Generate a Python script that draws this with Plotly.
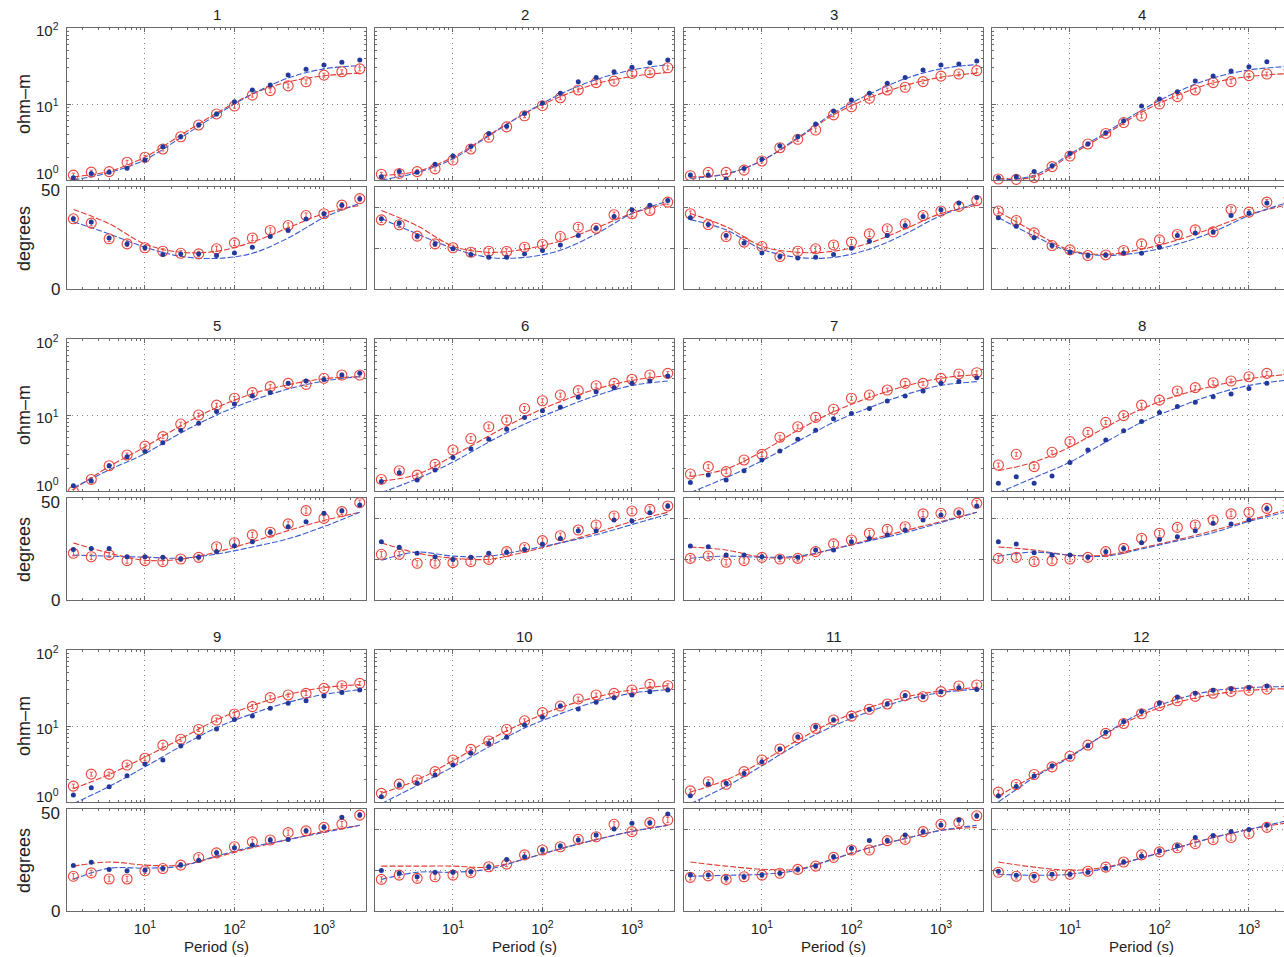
import plotly.graph_objects as go

# ---------------- data ----------------
periods = [1.585, 2.512, 3.981, 6.310, 10.0, 15.85, 25.12, 39.81, 63.10, 100.0,
           158.5, 251.2, 398.1, 631.0, 1000.0, 1585.0, 2512.0]
model_periods = [1.585, 3.981, 10.0, 25.12, 63.10, 158.5, 398.1, 1000.0, 2512.0]
station_labels = ["1", "2", "3", "4", "5", "6", "7", "8", "9", "10", "11", "12"]
x_tick_vals = [10, 100, 1000]
x_tick_text = ["10<sup>1</sup>", "10<sup>2</sup>", "10<sup>3</sup>"]
rho_tick_vals = [1, 10, 100]
rho_tick_text = ["10<sup>0</sup>", "10<sup>1</sup>", "10<sup>2</sup>"]
phase_tick_vals = [0, 50]
phase_tick_text = ["0", "50"]

rho_blue_data = [
    [1.07, 1.22, 1.26, 1.43, 1.83, 2.74, 3.7, 5.3, 7.4, 10.7, 15.3, 17.8, 24, 28.6, 32.6, 35.3, 38],
    [1.1, 1.29, 1.26, 1.61, 2.07, 2.75, 4.1, 5.1, 7.5, 10.2, 13.8, 19.6, 22.4, 26.6, 30.4, 35, 38],
    [1.16, 1.16, 1.03, 1.42, 1.87, 2.83, 3.71, 5.46, 8.1, 11.3, 13.8, 18.7, 22.4, 28, 32.6, 33.6, 36.8],
    [1.08, 1.1, 1.29, 1.54, 2.24, 2.98, 4.2, 6.0, 9.4, 11.6, 14.5, 20, 23.3, 27.2, 31, 36, 34],
    [1.17, 1.35, 2.15, 2.83, 3.3, 4.3, 6.3, 7.8, 11.1, 14, 17.8, 19.7, 26.1, 28, 29.4, 33.6, 35.4],
    [1.33, 1.74, 1.40, 1.89, 2.75, 3.6, 4.8, 6.5, 9.3, 11.4, 12.6, 17.1, 20.3, 22.9, 26.1, 28, 32.6],
    [1.29, 1.62, 1.40, 1.85, 2.56, 3.36, 4.8, 6.3, 8.9, 10.5, 12.2, 15.3, 17.8, 20.7, 26.1, 27.5, 31],
    [1.26, 1.54, 1.26, 1.57, 2.38, 3.46, 4.7, 6.2, 8.2, 10.8, 12.9, 14.7, 17.4, 18.9, 22.4, 26.1, 29.5],
    [1.24, 1.54, 1.59, 2.22, 3.16, 3.57, 5.46, 7.1, 9.1, 12.2, 13.5, 17.1, 19.9, 21.5, 24.8, 27.5, 29.8],
    [1.17, 1.67, 1.76, 2.27, 3.07, 4.37, 5.9, 7.1, 10.3, 13, 18.3, 16.7, 20.5, 23.6, 25.6, 28.3, 29.8],
    [1.21, 1.72, 1.76, 2.38, 3.39, 4.98, 7.24, 9.8, 12, 13.5, 16.6, 19.5, 25.1, 24.3, 28.3, 31.9, 30.3],
    [1.2, 1.6, 2.2, 3.0, 3.9, 5.5, 8.3, 11.5, 15.5, 20, 24, 27, 29.5, 31, 32, 33.5, 34],
]
rho_red_data = [
    [1.16, 1.27, 1.29, 1.71, 1.99, 2.56, 3.71, 5.3, 7.4, 9.4, 13.1, 15, 17.3, 19.6, 24, 26.6, 29],
    [1.19, 1.22, 1.29, 1.40, 1.83, 2.56, 3.65, 5.0, 7.0, 9.5, 12.1, 15.3, 19.1, 20, 25.3, 25.8, 30],
    [1.14, 1.26, 1.26, 1.35, 1.78, 2.66, 3.43, 4.55, 7.2, 9.2, 11.9, 15.3, 16.6, 19.7, 23.3, 24.8, 27.5],
    [1.03, 1.02, 1.08, 1.50, 2.07, 2.98, 4.1, 5.7, 6.95, 10, 12.5, 15.3, 19.1, 19.7, 23.6, 24.8, 26.6],
    [0.99, 1.42, 2.15, 2.98, 3.9, 5.2, 7.6, 10, 13.5, 16.6, 19.7, 23.6, 26.1, 25.3, 30.4, 33.6, 33.6],
    [1.42, 1.85, 1.62, 2.24, 3.46, 4.9, 7.0, 8.6, 12.2, 15.4, 18.3, 20.9, 24.3, 26.1, 29.5, 33.6, 35.3],
    [1.67, 2.09, 1.80, 2.56, 3.03, 5.1, 7.0, 9.3, 11.9, 16.6, 18.3, 21.3, 26.1, 26.1, 30.3, 34.7, 36],
    [2.2, 3.04, 2.09, 3.23, 4.46, 5.9, 8.0, 9.8, 13.5, 15.7, 20.7, 22.9, 26.6, 28, 31.9, 35.3, 36.4],
    [1.62, 2.33, 2.33, 3.07, 3.76, 5.6, 6.7, 9.0, 12, 14.4, 18, 23.6, 25.6, 26.9, 31.3, 33.9, 36.4],
    [1.30, 1.72, 1.95, 2.51, 3.57, 4.93, 6.35, 9.0, 11.7, 15, 18.3, 22.7, 25.6, 26.9, 29.8, 35.3, 33.9],
    [1.40, 1.85, 1.71, 2.51, 3.57, 4.98, 7.0, 9.3, 12, 13.5, 16.6, 19.5, 25.1, 24.3, 28.3, 33.6, 34.7],
    [1.35, 1.7, 2.3, 2.9, 4.0, 5.6, 8.0, 10.8, 14.5, 18.5, 21.5, 24.5, 27, 28.5, 29.5, 30.5, 32],
]
phase_blue_data = [
    [34.4, 32.8, 25, 22.1, 20.2, 16.9, 17.2, 17.2, 16.4, 17.7, 20.5, 25.7, 28.7, 34.3, 36.9, 41.1, 44.3],
    [34.4, 32.3, 25.9, 22.1, 19.7, 16.9, 15.6, 15.6, 17.2, 18.9, 21.6, 26.2, 29.8, 35.6, 38.9, 41, 43.4],
    [34.9, 31.6, 26.2, 22.6, 17.7, 15.9, 15.2, 15.6, 16.9, 20, 23.4, 26.2, 31.1, 35.6, 38.9, 42.1, 44.8],
    [34.9, 30.8, 25.1, 21.3, 18, 16.4, 16.7, 17.7, 17.5, 20.5, 26.2, 27.4, 28, 36, 37.2, 42.1, 45.9],
    [24.8, 25.3, 25.3, 21.2, 21.2, 20.9, 20.1, 20.9, 23.7, 26.6, 28.6, 33.2, 35.9, 38.4, 42.5, 43.8, 46.6],
    [28.6, 25.8, 22.9, 21.2, 19.9, 20.9, 22.9, 23.4, 24.8, 27.5, 30.2, 34, 34, 39.2, 38.7, 42.8, 46.1],
    [26.5, 26.1, 22.1, 22.1, 21.2, 20.9, 20.9, 24.5, 24.5, 28.6, 30.2, 31.9, 34.3, 39.2, 41.7, 42.8, 46.1],
    [28.6, 27.5, 23.2, 22.1, 22.1, 20.9, 23.7, 25.3, 28.1, 29.7, 31, 34, 37.6, 37.3, 39.2, 44.9, 45.8],
    [22.3, 23.9, 20.3, 19.7, 20, 20.8, 22.5, 24.9, 28.5, 31, 32.3, 34.8, 35.1, 39.3, 41, 45.9, 47],
    [19.8, 18.5, 16.8, 19, 19, 19.3, 21.7, 25.3, 26.6, 29.9, 31.9, 34.8, 37.3, 40.2, 43, 43.3, 47.5],
    [17.6, 17.6, 16, 16.8, 17.6, 18.5, 20.4, 22, 26.6, 30.7, 34.5, 34.5, 37.3, 38.9, 42.2, 44.6, 46.7],
    [19.5, 17.5, 17, 18, 18, 19, 21, 24, 27, 29.5, 32, 36, 37, 39, 40, 42, 47],
]
phase_red_data = [
    [34.4, 32.3, 24.6, 22.1, 20.2, 18.5, 17.5, 17.2, 19.7, 22.6, 25, 28.7, 31.1, 36, 36.9, 41.1, 44.3],
    [33.9, 31.5, 25.9, 22.1, 20.2, 18, 18.5, 18.4, 20.5, 21.8, 25.7, 30.3, 29.8, 36.4, 36.9, 38.5, 42.6],
    [36.9, 31.6, 25.7, 23, 20.8, 15.9, 18.5, 19.7, 21.6, 23, 27, 29.5, 32, 36, 38.2, 40.5, 43.4],
    [38.2, 33.6, 27.5, 21.3, 19.2, 16.4, 16.7, 18.9, 22.1, 24.1, 26.7, 29, 28, 39, 37.7, 42.6, 43.4],
    [22.9, 21.2, 22.1, 19.3, 19.3, 18.8, 20.1, 20.9, 26.1, 28.1, 31.9, 33.2, 37.3, 43.8, 40, 43.3, 47.7],
    [22.4, 22.4, 18, 18, 18.3, 18.8, 19.9, 23.7, 25.7, 29.1, 31.5, 34.3, 36.8, 41.2, 43.6, 44.4, 46.1],
    [20.4, 21.6, 18.5, 19.3, 20.9, 20.1, 20.4, 23.7, 27.5, 29.4, 32.7, 34.6, 35.9, 42.2, 42.5, 42.8, 47.4],
    [20.4, 20.9, 18.8, 19.3, 20.1, 20.9, 23.7, 25.3, 30.2, 32.7, 35.6, 36.8, 39.2, 42.2, 43, 44.9, 47.4],
    [17, 18.7, 15.7, 15.7, 19.7, 20.8, 22.5, 26.2, 28.5, 31.5, 33.9, 34.8, 38.4, 39.3, 41, 42.6, 47],
    [15.5, 17.6, 16, 16.8, 17.6, 18.8, 21.7, 23, 27.5, 29.9, 31.5, 35.1, 36.4, 42.5, 38.9, 43.3, 44.6],
    [16.5, 17.2, 15.5, 16.8, 17.6, 18.5, 20.4, 22, 26.3, 29.9, 29.9, 34.5, 35.1, 38.9, 42.5, 43.3, 46.7],
    [19, 17, 16.5, 17.5, 18, 19.5, 21.5, 24, 27.5, 29, 31, 33, 35, 36, 38, 41, 45],
]

rho_blue_model = [
    [1.0, 1.25, 1.85, 3.6, 7.2, 13.5, 22, 29, 32],
    [1.0, 1.25, 1.9, 3.8, 7.5, 13.5, 21, 28, 33],
    [1.05, 1.2, 1.8, 3.6, 7.6, 13.5, 21.5, 29, 33],
    [1.0, 1.15, 2.2, 4.2, 8.3, 14.5, 22, 28, 31],
    [1.1, 1.9, 3.1, 5.8, 10, 15.5, 22, 28, 32],
    [0.95, 1.45, 2.4, 4.4, 7.6, 12, 18, 24.5, 28],
    [0.95, 1.5, 2.5, 4.5, 8.0, 12.5, 18.5, 24.5, 27.5],
    [0.95, 1.5, 2.4, 4.4, 8.0, 12.5, 18.5, 24.5, 28.5],
    [0.95, 1.6, 2.9, 5.4, 9.5, 14.5, 20.5, 26, 30],
    [0.95, 1.65, 2.9, 5.3, 9.4, 14.5, 21, 27, 30],
    [0.95, 1.6, 3.0, 5.8, 10, 15.5, 22, 27.5, 30.5],
    [1.0, 2.1, 3.9, 8.0, 15, 22.5, 29, 32, 33],
]
rho_red_model = [
    [1.1, 1.3, 2.0, 3.9, 7.6, 13.5, 19.5, 23.5, 25.5],
    [1.15, 1.3, 2.0, 3.9, 7.5, 12.5, 18.5, 23, 26],
    [1.1, 1.2, 1.8, 3.5, 7.2, 12, 17.5, 22.5, 25.5],
    [1.05, 1.1, 2.1, 4.0, 7.8, 13, 19, 23, 25],
    [1.05, 2.1, 3.8, 7.2, 12.5, 19, 25, 30, 32],
    [1.35, 1.65, 2.9, 5.3, 9.4, 15, 22, 28.5, 33],
    [1.55, 1.95, 3.3, 6.3, 11, 17, 24, 30.5, 34],
    [1.85, 2.4, 3.8, 6.9, 12, 18, 24, 30, 34],
    [1.5, 2.3, 3.9, 6.8, 12, 18.5, 26, 32, 35],
    [1.3, 1.95, 3.5, 6.5, 11.2, 17.5, 24, 30, 34],
    [1.35, 1.95, 3.4, 6.5, 11.5, 17.5, 24, 29, 32],
    [1.2, 2.2, 4.0, 7.9, 14, 20.5, 26, 29.5, 31],
]
phase_blue_model = [
    [33, 27, 20.5, 16, 15, 17.5, 25, 35, 42],
    [34.5, 27, 20, 15.5, 15.5, 19, 27, 37, 43],
    [34, 29, 19.5, 15.5, 15.5, 19.5, 27, 36, 42],
    [35, 26, 18.5, 16.5, 18, 22, 28, 36, 42],
    [22, 21.5, 21, 20.5, 22.5, 26, 30, 36, 43],
    [19.5, 23.5, 21.5, 21.5, 24.5, 28, 32, 37, 42],
    [20.5, 21.5, 21, 21.5, 25, 29, 33, 38, 43],
    [21.5, 23.5, 22, 21.5, 25, 29, 33, 38.5, 43],
    [15.5, 21, 21, 22, 27, 31.5, 35, 38.5, 42],
    [15.5, 19, 19, 20.5, 25.5, 30.5, 35, 39, 42],
    [17, 17.5, 18, 20, 25.5, 31, 35.5, 39.5, 42],
    [18, 17.5, 18, 21, 26, 31, 36, 40, 44],
]
phase_red_model = [
    [39, 32, 22, 18, 18.5, 23, 30, 37, 41],
    [38.5, 31, 21, 18, 19.5, 23.5, 30, 37, 42],
    [37, 30.5, 21, 18, 18.5, 22.5, 29.5, 37, 41],
    [38, 28, 19, 17, 19.5, 24, 30, 36.5, 41],
    [28, 23, 19.5, 20, 23.5, 28.5, 34, 39, 43],
    [28, 23, 20.5, 20, 23.5, 28, 33, 38.5, 43],
    [26, 24.5, 21, 21, 25, 29.5, 34, 38.5, 43],
    [26, 24.5, 22, 22, 25.5, 29.5, 34, 39, 44],
    [22, 24, 22.5, 22.5, 26.5, 31, 35, 39, 42],
    [22, 22, 22, 21.5, 25.5, 30.5, 35, 39, 42],
    [24, 22, 20.5, 20.5, 25.5, 31, 35.5, 39.5, 41],
    [24, 21.5, 20, 21.5, 26, 31, 36, 40, 43],
]

# ---------------- layout geometry (pixels) ----------------
W, H = 1284, 957
col_left = [67, 375, 684, 992]
col_w = 299
rho_top = [28, 339, 650]
rho_h = 152
gap = 7
ph_h = 102
dec_px = 89.5
x_start = 0.129

BLUE_DOT = "#22399a"
BLUE_LINE = "#3b5bd0"
RED = "#e8463c"
RED_LINE = "#e03a32"
FRAME = "#6a6a6a"
GRID = "#808080"
TXT = "#1e1e1e"
FONT = "Liberation Sans, Arial, sans-serif"

x_minor = [v * m for m in (1, 10, 100, 1000) for v in range(2, 10)]
rho_minor = [v * m for m in (1, 10) for v in range(2, 10)]

fig = go.Figure()
layout = {}
annotations = []


def px_x(p):
    return p / W


def px_y(p):
    return 1 - p / H


for s in range(12):
    r, c = divmod(s, 4)
    left = col_left[c]
    right = min(left + col_w, W)
    x_range = [x_start, x_start + (right - left) / dec_px]
    t = rho_top[r]
    b = t + rho_h
    pt = b + gap
    pb = pt + ph_h
    panels = [
        ("rho", t, b, rho_blue_data[s], rho_red_data[s], rho_blue_model[s], rho_red_model[s]),
        ("phase", pt, pb, phase_blue_data[s], phase_red_data[s], phase_blue_model[s], phase_red_model[s]),
    ]
    for k, (kind, top, bot, bd, rd, bm, rm) in enumerate(panels):
        n = 2 * s + k + 1
        xname = "xaxis" if n == 1 else f"xaxis{n}"
        yname = "yaxis" if n == 1 else f"yaxis{n}"
        xref = "x" if n == 1 else f"x{n}"
        yref = "y" if n == 1 else f"y{n}"
        layout[xname] = dict(
            type="log", range=x_range, domain=[px_x(left), px_x(right)], anchor=yref,
            tickmode="array", tickvals=x_tick_vals, ticktext=x_tick_text,
            showticklabels=(k == 1 and r == 2), ticklabelstandoff=4,
            ticks="inside", ticklen=4, tickcolor=FRAME, tickwidth=1,
            showline=True, linecolor=FRAME, linewidth=1.4, mirror="ticks",
            showgrid=True, gridcolor=GRID, griddash="1px,4px", gridwidth=1,
            zeroline=False, automargin=False,
            minor=dict(tickmode="array", tickvals=x_minor, ticks="inside", ticklen=2,
                       tickcolor=FRAME, showgrid=False),
            tickfont=dict(family=FONT, size=15, color=TXT),
        )
        mirror_y = "ticks" if c < 3 else False
        if kind == "rho":
            layout[yname] = dict(
                type="log", range=[0, 2], domain=[px_y(bot), px_y(top)], anchor=xref,
                tickmode="array", tickvals=rho_tick_vals,
                minor=dict(tickmode="array", tickvals=rho_minor, ticks="inside", ticklen=2,
                           tickcolor=FRAME, showgrid=False),
            )
        else:
            tv = phase_tick_vals if c == 0 else [0, 20, 40]
            layout[yname] = dict(
                type="linear", range=[0, 50], domain=[px_y(bot), px_y(top)], anchor=xref,
                tickmode="array", tickvals=tv,
            )
        layout[yname].update(
            showticklabels=False,
            ticks="inside", ticklen=4, tickcolor=FRAME, tickwidth=1,
            showline=True, linecolor=FRAME, linewidth=1.4, mirror=mirror_y,
            showgrid=True, gridcolor=GRID, griddash="1px,4px", gridwidth=1,
            zeroline=False, automargin=False,
        )

        clip = c < 3
        if kind == "rho":
            err = dict(type="percent", value=6, color=RED, thickness=0.9, width=1.5)
        else:
            err = dict(type="constant", value=1.3, color=RED, thickness=0.9, width=1.5)
        fig.add_trace(go.Scatter(
            x=model_periods, y=rm, xaxis=xref, yaxis=yref, mode="lines",
            line=dict(color=RED_LINE, width=1.1, dash="6px,2px", shape="spline", smoothing=1.0),
            showlegend=False, hoverinfo="skip"))
        fig.add_trace(go.Scatter(
            x=model_periods, y=bm, xaxis=xref, yaxis=yref, mode="lines",
            line=dict(color=BLUE_LINE, width=1.1, dash="6px,2px", shape="spline", smoothing=1.0),
            showlegend=False, hoverinfo="skip"))
        fig.add_trace(go.Scatter(
            x=periods, y=rd, xaxis=xref, yaxis=yref, mode="markers",
            marker=dict(symbol="circle-open", size=10, color=RED, line=dict(width=1.1, color=RED)),
            error_y=err, cliponaxis=clip, showlegend=False))
        fig.add_trace(go.Scatter(
            x=periods, y=bd, xaxis=xref, yaxis=yref, mode="markers",
            marker=dict(symbol="circle", size=5, color=BLUE_DOT),
            cliponaxis=clip, showlegend=False))

    # station title
    annotations.append(dict(
        text=station_labels[s], x=px_x(left + col_w / 2), y=px_y(t - 3),
        xref="paper", yref="paper", xanchor="center", yanchor="bottom", showarrow=False,
        font=dict(family=FONT, size=15, color=TXT)))
    if c == 0:
        annotations.append(dict(
            text="ohm\u2013m", x=px_x(24), y=px_y(t + rho_h / 2), xref="paper", yref="paper",
            xanchor="center", yanchor="middle", textangle=-90, showarrow=False,
            font=dict(family=FONT, size=18, color=TXT)))
        annotations.append(dict(
            text="degrees", x=px_x(24), y=px_y(pt + ph_h / 2), xref="paper", yref="paper",
            xanchor="center", yanchor="middle", textangle=-90, showarrow=False,
            font=dict(family=FONT, size=18, color=TXT)))
        # y tick labels, nudged like the reference so they do not collide
        rho_label_y = [t + 145, t + 77, t + 2]
        for txt, yy in zip(rho_tick_text, rho_label_y):
            annotations.append(dict(
                text=txt, x=px_x(61), y=px_y(yy), xref="paper", yref="paper",
                xanchor="right", yanchor="middle", showarrow=False,
                font=dict(family=FONT, size=15, color=TXT)))
        phase_label_y = [pb, pt + 4]
        for txt, yy in zip(phase_tick_text, phase_label_y):
            annotations.append(dict(
                text=txt, x=px_x(62), y=px_y(yy), xref="paper", yref="paper",
                xanchor="right", yanchor="middle", showarrow=False,
                font=dict(family=FONT, size=17, color=TXT)))
    if r == 2:
        annotations.append(dict(
            text="Period (s)", x=px_x(left + col_w / 2), y=px_y(946), xref="paper", yref="paper",
            xanchor="center", yanchor="middle", showarrow=False,
            font=dict(family=FONT, size=15, color=TXT)))

fig.update_layout(
    width=W, height=H, margin=dict(l=0, r=0, t=0, b=0),
    paper_bgcolor="white", plot_bgcolor="white", template="none",
    showlegend=False, annotations=annotations,
    font=dict(family=FONT, size=14, color=TXT),
    **layout,
)

fig.write_html("out.html")
